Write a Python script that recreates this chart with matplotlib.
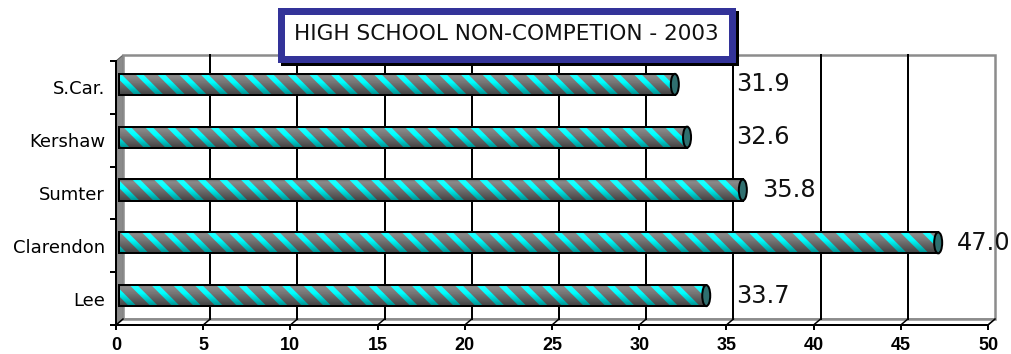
import numpy as np
import matplotlib
matplotlib.use('Agg')
import matplotlib.pyplot as plt
from matplotlib import transforms
from matplotlib.patches import Rectangle, Polygon, Ellipse

# données
categories = ['Lee', 'Clarendon', 'Sumter', 'Kershaw', 'S.Car.']
values = [33.7, 47.0, 35.8, 32.6, 31.9]
x_ticks = [0, 5, 10, 15, 20, 25, 30, 35, 40, 45, 50]
title = 'HIGH SCHOOL NON-COMPETION - 2003'

W, H, DPI = 1011, 354, 130
plt.rcParams['hatch.linewidth'] = 3.0


def px(v):
    # pixels -> points
    return v * 72 / DPI


fig = plt.figure(figsize=(W / DPI, H / DPI), dpi=DPI)
fig.patch.set_facecolor('white')

# plan avant de la boite 3D (pixels, y depuis le haut)
left, right, top, bottom = 116, 988, 61, 325
ax = fig.add_axes([left / W, (H - bottom) / H, (right - left) / W, (bottom - top) / H])
ax.set_xlim(x_ticks[0], x_ticks[-1])
ax.set_ylim(-0.5, len(categories) - 0.5)
ax.set_autoscale_on(False)
ax.patch.set_visible(False)

# profondeur 3D
ox = 7 / (right - left)
oy = 6 / (bottom - top)
wall = dict(transform=ax.transAxes, clip_on=False)
ax.add_patch(Polygon([(0, 0), (0, 1), (ox, 1 + oy), (ox, oy)], closed=True,
                     fc='#8a8a8a', ec='#5a5a5a', lw=px(1), zorder=1, **wall))
ax.add_patch(Polygon([(0, 0), (1, 0), (1 + ox, oy), (ox, oy)], closed=True,
                     fc='white', ec='#808080', lw=px(1.5), zorder=1, **wall))
ax.add_patch(Rectangle((ox, oy), 1, 1, fill=False, ec='#8c8c8c', lw=px(2.5), zorder=1, **wall))

# grille du fond
xt = transforms.blended_transform_factory(ax.transData, ax.transAxes)
shift = (x_ticks[-1] - x_ticks[0]) * ox
for x in x_ticks:
    if x_ticks[0] < x < x_ticks[-1]:
        ax.plot([x + shift, x + shift], [oy, 1 + oy], color='black', lw=px(2),
                transform=xt, clip_on=False, zorder=2)
    ax.plot([x, x + shift], [0, oy], color='black', lw=px(1.5),
            transform=xt, clip_on=False, zorder=2)

# barres cylindriques
mid = ax.transData + transforms.ScaledTranslation(2.5 / DPI, 3 / DPI, fig.dpi_scale_trans)
ypos = np.arange(len(categories))
bar_h = 0.4
cap_w = 8 / (right - left) * (x_ticks[-1] - x_ticks[0])

bars = ax.barh(ypos, values, height=bar_h, color='#777777', edgecolor='#00ffff',
               linewidth=0, hatch='\\\\', zorder=3)

t = np.linspace(0, 1, 64)
s = np.interp(t, [0, 0.12, 0.4, 0.7, 1], [-0.15, 0.15, 0.0, -0.22, -0.45])
shade = np.zeros((64, 1, 4))
shade[:, 0, :3] = np.where(s > 0, 1.0, 0.0)[:, None]
shade[:, 0, 3] = np.abs(s)

for rect, v, y in zip(bars, values, ypos):
    rect.set_transform(mid)
    im = ax.imshow(shade, extent=(0, v, y - bar_h / 2, y + bar_h / 2), aspect='auto',
                   interpolation='bilinear', zorder=3.5)
    im.set_transform(mid)
    im.set_clip_path(rect)
    ax.add_patch(Rectangle((0, y - bar_h / 2), v, bar_h, fill=False, ec='black',
                           lw=px(2), transform=mid, zorder=4))
    ax.add_patch(Ellipse((v, y), width=cap_w, height=bar_h, fc='#2f6f6f', ec='black',
                         lw=px(2), transform=mid, zorder=5))
    ax.text(max(v + 1.1, 35.4), y, f'{v:.1f}', transform=mid, ha='left', va='center',
            fontsize=13.3, color='#111111', zorder=6, clip_on=False)

# axes
ax.set_yticks(ypos, categories)
ax.set_yticks(np.arange(-0.5, len(categories)), minor=True)
ax.tick_params(axis='y', which='major', length=0, pad=6, labelsize=10)
ax.tick_params(axis='y', which='minor', length=px(6), width=px(2), direction='out')
ax.set_xticks(x_ticks)
ax.tick_params(axis='x', length=px(5), width=px(2), direction='out', pad=4)
for lab in ax.get_xticklabels():
    lab.set_fontfamily('Liberation Sans')
    lab.set_fontweight('bold')
    lab.set_fontsize(10)
for side in ['top', 'right']:
    ax.spines[side].set_visible(False)
for side in ['left', 'bottom']:
    ax.spines[side].set_linewidth(px(2))
    ax.spines[side].set_color('black')
ax.set_xlim(x_ticks[0], x_ticks[-1])
ax.set_ylim(-0.5, len(categories) - 0.5)

# cadre du titre
box_l, box_t, box_r, box_b, bw = 277, 7, 735, 62, 7
for dx, fc, ec in [(3, 'black', 'black'), (0, 'white', '#333399')]:
    fig.add_artist(Rectangle(((box_l + bw / 2 + dx) / W, 1 - (box_b - bw / 2 + dx) / H),
                             (box_r - box_l - bw) / W, (box_b - box_t - bw) / H,
                             transform=fig.transFigure, fc=fc, ec=ec, lw=px(bw), zorder=2))
fig.text((box_l + box_r) / 2 / W, 1 - (box_t + box_b) / 2 / H, title,
         ha='center', va='center', fontsize=12, color='#111111', zorder=3)

plt.savefig('out.png', dpi=DPI)
